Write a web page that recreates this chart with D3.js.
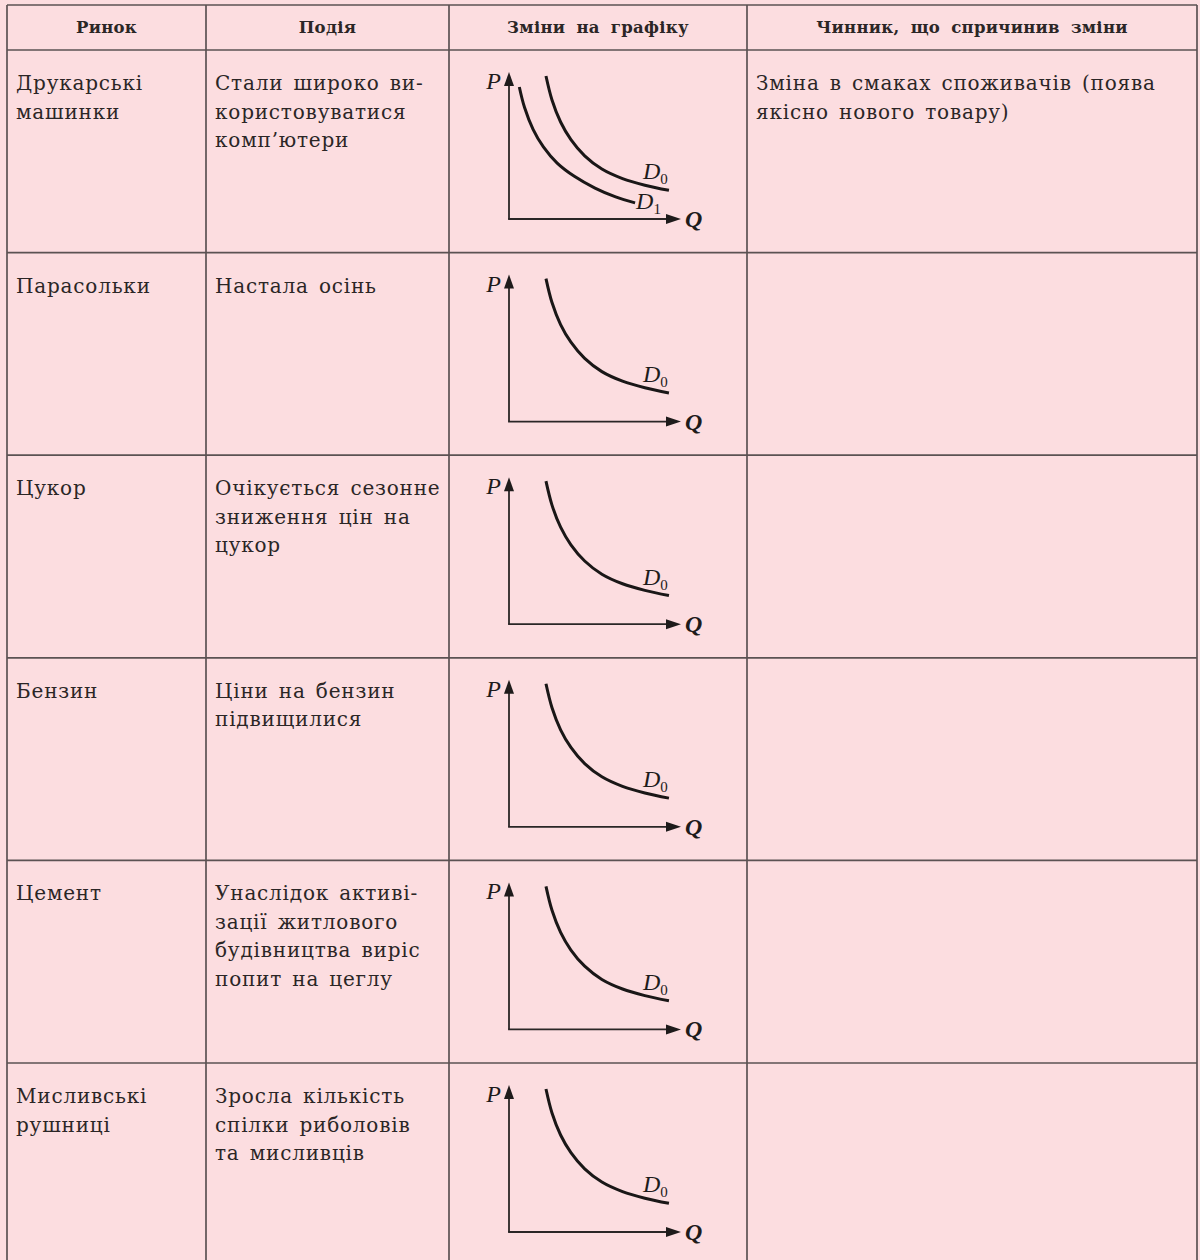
<!DOCTYPE html>
<html><head><meta charset="utf-8">
<script src="https://cdn.jsdelivr.net/npm/d3@7"></script>
<style>
html,body{margin:0;padding:0;background:#fcdde0;}
svg{display:block;}
.hdr{font-family:"DejaVu Serif",serif;font-weight:bold;font-size:16.5px;fill:#2b2626;letter-spacing:0.3px;word-spacing:5px;}
.body{font-family:"DejaVu Serif",serif;font-size:20px;fill:#2b2626;letter-spacing:0.8px;word-spacing:3px;}
.math{font-family:"Liberation Serif","DejaVu Serif",serif;font-style:italic;font-size:24px;fill:#1e1b1b;}
.sub{font-family:"Liberation Serif","DejaVu Serif",serif;font-style:normal;font-size:15px;fill:#1e1b1b;}
</style></head>
<body>
<div id="chart"></div>
<script>
// ---- data ----
const columns = ["Ринок", "Подія", "Зміни на графіку", "Чинник, що спричинив зміни"];
const markets = [
  ["Друкарські", "машинки"],
  ["Парасольки"],
  ["Цукор"],
  ["Бензин"],
  ["Цемент"],
  ["Мисливські", "рушниці"]
];
const events = [
  ["Стали широко ви-", "користовуватися", "комп’ютери"],
  ["Настала осінь"],
  ["Очікується сезонне", "зниження цін на", "цукор"],
  ["Ціни на бензин", "підвищилися"],
  ["Унаслідок активі-", "зації житлового", "будівництва виріс", "попит на цеглу"],
  ["Зросла кількість", "спілки риболовів", "та мисливців"]
];
const factors = [
  ["Зміна в смаках споживачів (поява", "якісно нового товару)"],
  [], [], [], [], []
];
// demand curves, as (Q, P) in axis units 0..10
const demandD0 = [[2.15,9.73],[2.5,8.1],[3.0,6.6],[3.6,5.4],[4.4,4.3],[5.4,3.4],[6.6,2.75],[7.9,2.3],[9.3,1.95]];
const demandD1 = [[0.6,8.98],[0.9,7.6],[1.4,6.1],[2.0,4.9],[2.8,3.8],[3.8,2.9],[5.0,2.1],[6.2,1.5],[7.33,1.1]];
const rowHasD1 = [true, false, false, false, false, false];

// ---- layout ----
const W = 1200, H = 1260;
const colX = [7, 206, 449, 747, 1197];
const headerTop = 5, headerBottom = 50, rowH = 202.6;
const nRows = markets.length;
const rowTop = d3.scaleLinear().domain([0, 1]).range([headerBottom, headerBottom + rowH]);
const tableBottom = rowTop(nRows);

const svg = d3.select("#chart").append("svg").attr("width", W).attr("height", H);
svg.append("rect").attr("width", W).attr("height", H).attr("fill", "#fcdde0");

const lineColor = "#5b5253";
const grid = svg.append("g").attr("stroke", lineColor).attr("stroke-width", 1.7);
grid.append("line").attr("x1", colX[0]).attr("x2", colX[4]).attr("y1", headerTop).attr("y2", headerTop);
d3.range(nRows + 1).forEach(i => {
  grid.append("line").attr("x1", colX[0]).attr("x2", colX[4]).attr("y1", rowTop(i)).attr("y2", rowTop(i));
});
colX.forEach(x => {
  grid.append("line").attr("x1", x).attr("x2", x).attr("y1", headerTop).attr("y2", tableBottom);
});

// header
columns.forEach((c, i) => {
  svg.append("text").attr("class", "hdr")
    .attr("x", (colX[i] + colX[i + 1]) / 2).attr("y", 33)
    .attr("text-anchor", "middle").text(c);
});

// body text
const lineGap = 28.5;
function writeLines(lines, x, top) {
  const t = svg.append("text").attr("class", "body");
  lines.forEach((l, k) => {
    t.append("tspan").attr("x", x).attr("y", top + 40 + k * lineGap).text(l);
  });
}
markets.forEach((m, i) => writeLines(m, colX[0] + 9, rowTop(i)));
events.forEach((m, i) => writeLines(m, colX[1] + 9, rowTop(i)));
factors.forEach((m, i) => writeLines(m, colX[3] + 9, rowTop(i)));

// graphs
const axisColor = "#2a2626";
d3.range(nRows).forEach(i => {
  const top = rowTop(i);
  const cx = colX[2];
  const x = d3.scaleLinear().domain([0, 10]).range([cx + 60, cx + 232]);
  const y = d3.scaleLinear().domain([0, 10]).range([top + 169, top + 22]);
  const g = svg.append("g");
  const ox = x(0), oy = y(0);
  g.append("line").attr("x1", ox).attr("y1", oy).attr("x2", ox).attr("y2", y(10) + 13)
    .attr("stroke", axisColor).attr("stroke-width", 1.8);
  g.append("line").attr("x1", ox - 0.9).attr("y1", oy).attr("x2", x(10) - 14).attr("y2", oy)
    .attr("stroke", axisColor).attr("stroke-width", 1.8);
  g.append("path").attr("fill", "#1e1b1b")
    .attr("d", `M${ox},${y(10)} L${ox - 5},${y(10) + 14} L${ox + 5},${y(10) + 14} Z`);
  g.append("path").attr("fill", "#1e1b1b")
    .attr("d", `M${x(10)},${oy} L${x(10) - 15},${oy - 5} L${x(10) - 15},${oy + 5} Z`);
  g.append("text").attr("class", "math").attr("x", ox - 8).attr("y", top + 39)
    .attr("text-anchor", "end").text("P");
  g.append("text").attr("class", "math").attr("x", x(10) + 4).attr("y", oy + 8)
    .attr("font-weight", "bold").text("Q");
  const line = d3.line().x(d => x(d[0])).y(d => y(d[1])).curve(d3.curveCatmullRom);
  const curves = rowHasD1[i] ? [[demandD0, "0"], [demandD1, "1"]] : [[demandD0, "0"]];
  curves.forEach(([data, idx]) => {
    g.append("path").attr("d", line(data)).attr("fill", "none")
      .attr("stroke", "#1a1717").attr("stroke-width", 3);
    const last = data[data.length - 1];
    const ex = x(last[0]), ey = y(last[1]);
    const lx = idx === "1" ? ex + 1 : ex - 26;
    const ly = idx === "1" ? ey + 6 : ey - 11;
    const t = g.append("text").attr("class", "math").attr("x", lx).attr("y", ly);
    t.append("tspan").text("D");
    t.append("tspan").attr("class", "sub").attr("dy", 5).text(idx);
  });
});
</script>
</body></html>
